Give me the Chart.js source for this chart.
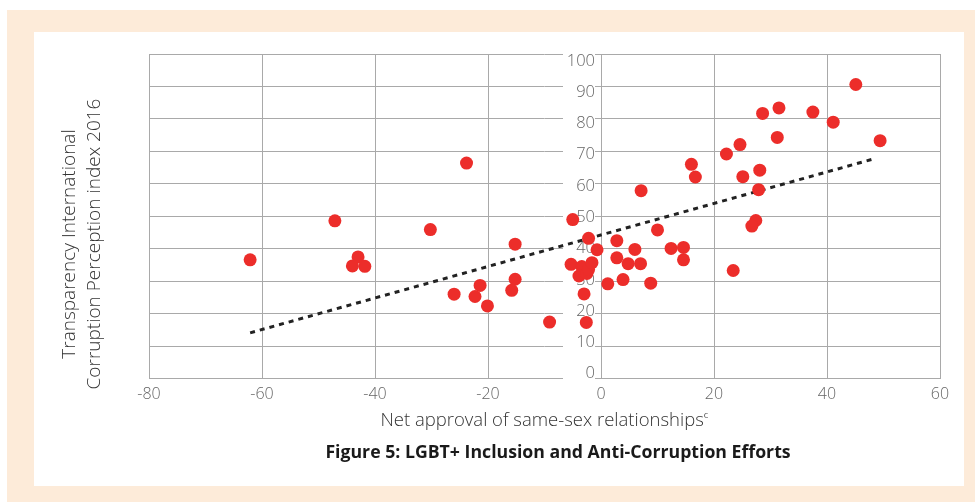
<!DOCTYPE html>
<html>
<head>
<meta charset="utf-8">
<script src="https://cdn.jsdelivr.net/npm/chart.js@4.4.1/dist/chart.umd.min.js"></script>
<style>
	html, body { margin: 0; padding: 0; background: #fff; }
	#frame { position: absolute; left: 7px; top: 10px; width: 968px; height: 492px; background: #fdebd9; }
	#inner { position: absolute; left: 34px; top: 32px; width: 930px; height: 454px; background: #fff; }
	#wrap { position: absolute; left: 0; top: 0; width: 975px; height: 502px; }
</style>
</head>
<body>
<div id="frame"></div>
<div id="inner"></div>
<div id="wrap"><canvas id="chart"></canvas></div>
<script>
// Net approval of same-sex relationships (x) vs CPI 2016 (y)
const approval = [
	-62.1, -47.1, -43.0, -44.0, -41.8, -30.2, -23.8, -26.0, -21.4, -22.3,
	-20.1, -15.2, -15.2, -15.8, -9.1, -5.0, -5.3, -3.4, -3.9, -2.5,
	-2.2, -1.6, -2.2, -3.0, -2.6, -0.7, 1.2, 2.8, 2.8, 3.9,
	4.8, 6.0, 7.0, 8.8, 10.0, 12.4, 14.6, 14.6, 7.1, 16.0,
	16.7, 22.2, 24.6, 28.6, 31.5, 37.5, 45.1, 41.1, 31.2, 49.4,
	25.1, 28.1, 27.9, 27.4, 26.7, 23.4
];
const cpi = [
	36.6, 48.6, 37.5, 34.7, 34.6, 45.9, 66.4, 26.0, 28.7, 25.3,
	22.4, 41.4, 30.6, 27.2, 17.4, 49.0, 35.2, 34.5, 31.6, 32.4,
	33.6, 35.7, 43.2, 26.1, 17.3, 39.7, 29.2, 42.5, 37.2, 30.5,
	35.4, 39.8, 35.4, 29.4, 45.8, 40.1, 40.4, 36.6, 57.9, 66.0,
	62.1, 69.2, 72.1, 81.7, 83.4, 82.1, 90.6, 79.0, 74.3, 73.3,
	62.2, 64.2, 58.2, 48.7, 47.0, 33.3
];

// trend line end points
const trendX = [-62.1, 48.5];
const trendY = [14.1, 67.8];

const xTicks = [-80, -60, -40, -20, 0, 20, 40, 60];
const yTicks = [0, 10, 20, 30, 40, 50, 60, 70, 80, 90, 100];

const yTitle = ["Transparency International", "Corruption Perception index 2016"];
const xTitle = "Net approval of same-sex relationships\u1D9C";
const caption = "Figure 5: LGBT+ Inclusion and Anti-Corruption Efforts";

const FONT = "'Open Sans', Lato, sans-serif";
const GRID = "#a9a9a9";

const points = approval.map((x, i) => ({ x: x, y: cpi[i] }));
const trend = trendX.map((x, i) => ({ x: x, y: trendY[i] }));

// white strip behind the y labels, then the labels themselves
const yLabelsPlugin = {
	id: "yLabels",
	beforeDatasetsDraw(chart) {
		const ctx = chart.ctx;
		const xs = chart.scales.x;
		const ys = chart.scales.y;
		const { top, bottom } = chart.chartArea;
		const x0 = xs.getPixelForValue(0);
		ctx.save();
		ctx.fillStyle = "#fff";
		ctx.fillRect(x0 - 38, top - 2, 32, bottom - top + 4);
		ctx.fillStyle = "#666";
		ctx.font = "300 16.5px " + FONT;
		ctx.textAlign = "right";
		ctx.textBaseline = "middle";
		yTicks.forEach((v) => {
			const py = ys.getPixelForValue(v);
			const t = (py - top) / (bottom - top);
			ctx.fillText(String(v), x0 - 6, py + 7 - 12 * t);
		});
		ctx.restore();
	},
	afterDraw(chart) {
		const ctx = chart.ctx;
		ctx.save();
		// rotated y title
		ctx.fillStyle = "#333";
		ctx.font = "300 19px " + FONT;
		ctx.textAlign = "center";
		ctx.textBaseline = "middle";
		ctx.translate(82, 244);
		ctx.rotate(-Math.PI / 2);
		ctx.fillText(yTitle[0], 0, -12);
		ctx.fillText(yTitle[1], 0, 13);
		ctx.restore();

		ctx.save();
		ctx.fillStyle = "#1a1a1a";
		ctx.font = "bold 17.7px " + FONT;
		ctx.textAlign = "center";
		ctx.textBaseline = "middle";
		ctx.fillText(caption, 558, 453);
		ctx.restore();
	}
};

new Chart(document.getElementById("chart"), {
	type: "scatter",
	data: {
		datasets: [
			{
				label: "Countries",
				data: points,
				backgroundColor: "#ec2d2a",
				borderWidth: 0,
				pointRadius: 6.5,
				pointHoverRadius: 6.5,
			},
			{
				label: "Trend",
				data: trend,
				showLine: true,
				borderColor: "#222",
				borderWidth: 3,
				borderDash: [5, 5],
				pointRadius: 0,
				fill: false,
			},
		],
	},
	options: {
		responsive: true,
		maintainAspectRatio: false,
		animation: false,
		layout: { padding: { left: 149, right: 35, top: 54, bottom: 70 } },
		plugins: {
			legend: { display: false },
			tooltip: { enabled: false },
		},
		scales: {
			x: {
				type: "linear",
				min: -80,
				max: 60,
				afterBuildTicks: (scale) => { scale.ticks = xTicks.map((v) => ({ value: v })); },
				grid: { color: GRID, lineWidth: 1, drawTicks: false },
				border: { color: GRID },
				ticks: { color: "#666", padding: 6, font: { family: FONT, size: 16, weight: 300 } },
				title: {
					display: true,
					text: xTitle,
					color: "#333",
					font: { family: FONT, size: 18.5, weight: 300 },
					padding: { top: 0, bottom: 0 },
				},
			},
			y: {
				type: "linear",
				position: { x: 0 },
				min: 0,
				max: 100,
				afterBuildTicks: (scale) => { scale.ticks = yTicks.map((v) => ({ value: v })); },
				grid: { color: GRID, lineWidth: 1, drawTicks: true, tickLength: 6 },
				border: { color: GRID },
				ticks: { display: false },
			},
		},
	},
	plugins: [yLabelsPlugin],
});
</script>
</body>
</html>
